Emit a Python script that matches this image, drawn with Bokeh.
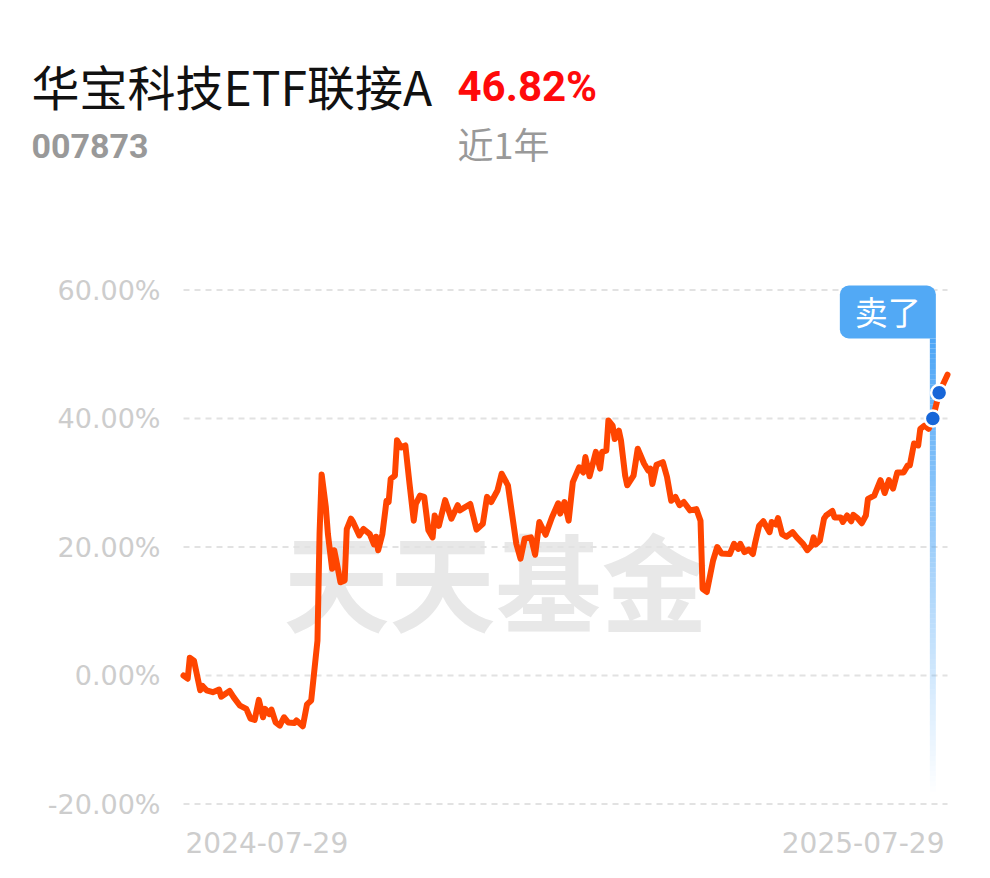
import numpy as np
import pandas as pd
from bokeh.plotting import figure
from bokeh.models import Range1d
from bokeh.core.properties import value
from bokeh.embed import file_html
from bokeh.resources import INLINE

# ---------------- data ----------------
fund_name = "华宝科技ETF联接A"
fund_code = "007873"
period_return = "46.82%"
period_label = "近1年"
watermark_text = "天天基金"
sell_label = "卖了"

start_date = "2024-07-29"
day_offsets = [
    0, 2, 3, 5, 8, 9, 11, 14, 17, 18,
    22, 24, 27, 30, 32, 34, 36, 38, 39, 41,
    42, 44, 46, 48, 50, 53, 54, 56, 57, 59,
    61, 62, 64, 65, 66, 68, 69, 71, 72, 73,
    75, 77, 78, 80, 81, 84, 86, 89, 91, 92,
    93, 95, 97, 98, 99, 101, 102, 104, 106, 108,
    110, 111, 113, 115, 117, 119, 120, 122, 125, 128,
    131, 132, 137, 140, 143, 145, 147, 150, 152, 155,
    159, 161, 163, 166, 168, 170, 173, 176, 179, 180,
    182, 184, 186, 189, 191, 192, 194, 197, 199, 200,
    202, 203, 205, 206, 208, 209, 211, 212, 215, 217,
    220, 222, 223, 224, 226, 229, 231, 233, 235, 237,
    239, 242, 245, 247, 248, 250, 253, 255, 257, 261,
    263, 265, 266, 268, 270, 272, 273, 275, 277, 280,
    281, 283, 284, 286, 288, 291, 293, 296, 298, 300,
    301, 302, 304, 306, 307, 310, 311, 314, 315, 317,
    319, 320, 322, 324, 326, 327, 330, 333, 335, 337,
    339, 341, 344, 346, 347, 349, 351, 352, 354, 356,
    358, 361, 365,
]
returns = [
    0.0, -0.5, 2.75, 2.3, -2.3, -1.6, -2.3, -2.6, -2.2, -3.3,
    -2.4, -3.4, -4.7, -5.2, -6.7, -6.9, -3.8, -6.5, -5.2, -6.0,
    -5.3, -7.3, -7.8, -6.5, -7.3, -7.4, -7.0, -7.6, -7.9, -4.5,
    -3.9, -0.8, 5.4, 22.1, 31.3, 26.2, 22.0, 16.6, 19.5, 17.9,
    14.5, 14.8, 22.8, 24.4, 23.9, 21.8, 22.8, 22.0, 20.4, 21.6,
    19.5, 22.0, 27.2, 27.0, 30.6, 31.1, 36.6, 35.5, 35.8, 29.8,
    24.1, 26.7, 28.0, 27.8, 22.6, 21.5, 24.9, 23.3, 27.3, 24.4,
    26.5, 25.7, 26.7, 22.7, 23.6, 27.8, 27.0, 28.8, 31.4, 29.6,
    20.5, 18.2, 21.3, 21.5, 18.8, 23.9, 21.9, 24.6, 26.8, 25.2,
    27.0, 24.1, 30.1, 32.4, 31.6, 34.0, 31.0, 34.8, 32.2, 34.8,
    35.0, 39.7, 38.9, 36.8, 38.1, 36.6, 31.1, 29.6, 31.1, 35.3,
    33.0, 31.9, 32.2, 29.8, 32.8, 33.2, 30.9, 27.2, 27.8, 26.5,
    27.0, 25.7, 25.9, 24.1, 13.5, 13.0, 17.9, 20.0, 19.0, 18.9,
    20.5, 19.7, 20.5, 19.2, 19.6, 18.9, 20.5, 23.3, 24.0, 22.3,
    23.9, 23.5, 24.5, 22.0, 21.6, 22.3, 21.5, 20.5, 19.5, 20.2,
    21.5, 20.4, 21.0, 24.4, 24.9, 25.6, 24.6, 24.6, 23.9, 24.9,
    24.0, 25.0, 24.5, 23.7, 24.9, 27.5, 28.0, 30.4, 28.4, 30.4,
    29.1, 31.6, 31.6, 32.7, 32.7, 36.1, 35.8, 38.4, 38.9, 38.4,
    40.0, 44.0, 46.82,
]
trade_points = [180, 181]          # indices of the two trade markers
y_ticks = [60, 40, 20, 0, -20]
y_tick_labels = ["60.00%", "40.00%", "20.00%", "0.00%", "-20.00%"]
x_tick_labels = ["2024-07-29", "2025-07-29"]

# ---------------- geometry ----------------
W, H = 974, 862
X0 = 183.0                 # px of day 0
PXD = 764.0 / 365.0        # px per day
Y0 = 675.0                 # px of 0 %
PXP = 6.425                # px per percent


def dx(cx):
    return (cx - X0) / PXD


def dy(cy):
    return (Y0 - cy) / PXP


start = pd.Timestamp(start_date)
days = np.array(day_offsets, dtype=float)
vals = np.array(returns, dtype=float)
tick_days = [(pd.Timestamp(t) - start).days for t in x_tick_labels]

p = figure(width=W, height=H, output_backend="svg", toolbar_location=None,
           x_range=Range1d(dx(0), dx(W)), y_range=Range1d(dy(H), dy(0)),
           x_axis_location=None, y_axis_location=None, min_border=0,
           background_fill_color="white", border_fill_color="white")
p.outline_line_color = None
p.xgrid.visible = False
p.ygrid.visible = False

CJK = value("Noto Sans CJK SC")
ROB = value("Roboto")
AXF = value("DejaVu Sans")

# watermark
p.text(x=[dx(495)], y=[dy(577)], text=[watermark_text], text_font=CJK,
       text_font_size="106px", text_font_style="bold", text_color="#e8e8e8",
       text_align="center", text_baseline="middle")

# grid lines
p.segment(x0=[tick_days[0]] * len(y_ticks), x1=[tick_days[1]] * len(y_ticks),
          y0=y_ticks, y1=y_ticks, line_color="#e2e2e2", line_width=2,
          line_dash="6 5")

# y tick labels
p.text(x=[dx(160)] * len(y_ticks), y=y_ticks, text=y_tick_labels, text_font=AXF,
       text_font_size="27px", text_color="#cdcdcd", text_align="right",
       text_baseline="middle")

# x tick labels
p.text(x=[tick_days[0]], y=[dy(842)], text=[x_tick_labels[0]], text_font=AXF,
       text_font_size="28px", text_color="#cdcdcd", text_align="left",
       text_baseline="middle", x_offset=2)
p.text(x=[tick_days[1]], y=[dy(842)], text=[x_tick_labels[1]], text_font=AXF,
       text_font_size="28px", text_color="#cdcdcd", text_align="right",
       text_baseline="middle", x_offset=-3)

# header
p.text(x=[dx(31)], y=[dy(84)], text=[fund_name], text_font=CJK,
       text_font_size="48px", text_color="#111111", text_align="left",
       text_baseline="middle")
p.text(x=[dx(457)], y=[dy(86)], text=[period_return], text_font=ROB,
       text_font_size="42px", text_font_style="bold", text_color="#ff0a0a",
       text_align="left", text_baseline="middle")
p.text(x=[dx(31)], y=[dy(145)], text=[fund_code], text_font=ROB,
       text_font_size="34px", text_font_style="bold", text_color="#999999",
       text_align="left", text_baseline="middle")
p.text(x=[dx(457)], y=[dy(142)], text=[period_label], text_font=CJK,
       text_font_size="36px", text_color="#999999", text_align="left",
       text_baseline="middle")

# trade marker vertical gradient line
mday = days[trade_points[0]]
mcx = X0 + mday * PXD
n = 90
ys = np.linspace(338, 796, n + 1)
alphas = np.linspace(1.0, 0.0, n)
p.segment(x0=[mday] * n, x1=[mday] * n, y0=dy(ys[:-1]), y1=dy(ys[1:]),
          line_color="#4ea6f6", line_alpha=alphas, line_width=6)

# sell label box
p.quad(left=[dx(mcx - 93)], right=[dx(mcx + 3)], top=[dy(285)], bottom=[dy(338)],
       fill_color="#52a9f5", line_color=None, border_radius=(9, 9, 0, 9))
p.text(x=[dx(mcx - 45)], y=[dy(310)], text=[sell_label], text_font=CJK,
       text_font_size="33px", text_color="white", text_align="center",
       text_baseline="middle")

# main series
p.line(days, vals, line_color="#ff4500", line_width=6, line_join="round",
       line_cap="round")

# trade markers
p.scatter(days[trade_points], vals[trade_points], size=16, fill_color="#1766d8",
          line_color="white", line_width=2.5)

open("out.html", "w").write(file_html(p, INLINE))
